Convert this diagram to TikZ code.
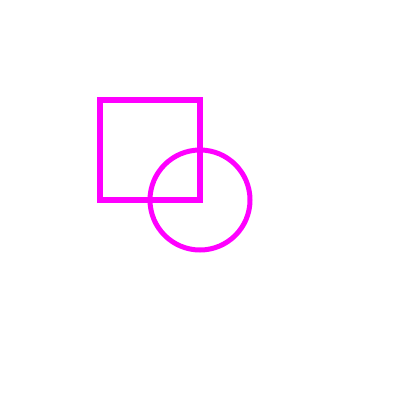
\documentclass[tikz,border=0pt]{standalone}
\begin{document}
\begin{tikzpicture}[x=1pt,y=-1pt,
  shapeline/.style={draw={rgb,255:red,255;green,0;blue,255}}]
\useasboundingbox[fill=white] (0,0) rectangle (400,400);
\draw[shapeline,line width=6pt] (100,100) rectangle (200,200);
\draw[shapeline,line width=5pt] (200,200) circle[radius=50];
\end{tikzpicture}
\end{document}
